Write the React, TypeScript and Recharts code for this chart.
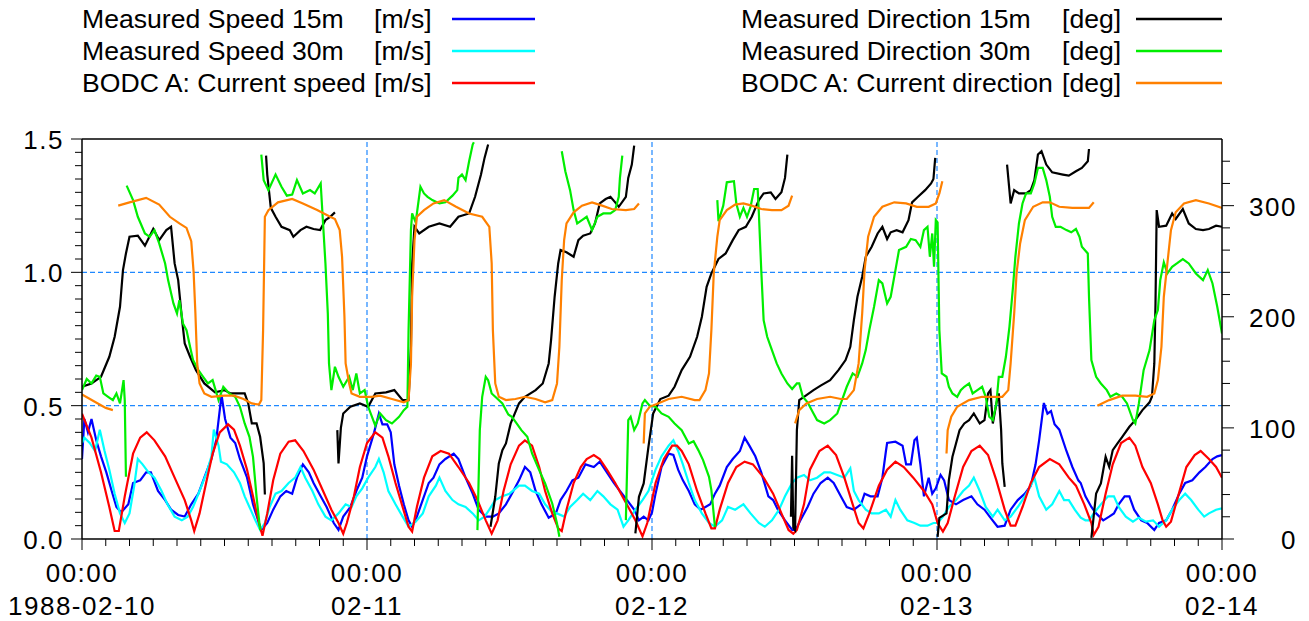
import React from 'react';
import { LineChart, Line, XAxis, YAxis, ReferenceLine } from 'recharts';

type Pt = [number, number | null];

// Measured Speed 15m [m/s]  (hours from 1988-02-10 00:00)
const speed15: Pt[] = [
  [0,0.30],[0.2,0.45],[0.5,0.40],[0.8,0.45],[1.2,0.37],[1.6,0.31],[2.05,0.25],[2.5,0.18],[2.9,0.12],[3.3,0.10],[3.9,0.13],[4.3,0.21],[4.9,0.22],[5.4,0.25],[5.8,0.25],[6.4,0.18],[7.0,0.146],[7.5,0.11],[8.1,0.09],[8.65,0.084],[9.2,0.13],[9.8,0.17],[10.3,0.23],[10.9,0.30],[11.3,0.37],[11.75,0.54],[12.05,0.45],[12.5,0.38],[12.9,0.36],[13.3,0.30],[13.9,0.23],[14.4,0.13],[14.9,0.06],[15.1,0.034],[15.6,0.06],[16.1,0.11],[16.7,0.16],[17.2,0.18],[17.7,0.17],[18.1,0.23],[18.6,0.28],[19.1,0.25],[19.5,0.21],[20.1,0.16],[20.6,0.12],[21.2,0.06],[21.6,0.034],[22.0,0.084],[22.6,0.12],[23.1,0.18],[23.6,0.23],[24.0,0.31],[24.6,0.40],[25.0,0.47],[25.3,0.43],[25.7,0.43],[26.0,0.40],[26.3,0.28],[26.7,0.20],[27.1,0.13],[27.5,0.07],[27.8,0.046],[28.2,0.084],[28.8,0.16],[29.2,0.21],[29.6,0.23],[30.1,0.28],[30.6,0.30],[31.3,0.32],[31.7,0.30],[32.3,0.23],[32.9,0.17],[33.4,0.11],[34.0,0.084],[34.6,0.084],[35.1,0.096],[35.7,0.13],[36.2,0.17],[36.8,0.22],[37.3,0.27],[37.75,0.25],[38.2,0.18],[38.7,0.13],[39.3,0.08],[39.9,0.096],[40.3,0.146],[40.8,0.18],[41.3,0.22],[41.8,0.23],[42.4,0.28],[43.1,0.27],[43.6,0.29],[44.2,0.25],[44.8,0.21],[45.3,0.18],[45.9,0.146],[46.5,0.11],[46.9,0.07],[47.3,0.084],[47.7,0.07],[48.0,0.10],[48.3,0.17],[48.8,0.27],[49.4,0.32],[49.8,0.315],[50.2,0.26],[50.6,0.22],[51.1,0.18],[51.6,0.13],[52.1,0.11],[52.5,0.12],[52.9,0.13],[53.3,0.17],[53.7,0.20],[54.3,0.27],[54.8,0.30],[55.4,0.33],[55.8,0.38],[56.2,0.35],[56.7,0.31],[57.2,0.25],[57.8,0.16],[58.2,0.146],[58.6,0.11],[59.2,0.07],[59.8,0.034],[60.1,0.034],[60.5,0.07],[61.1,0.12],[61.6,0.17],[62.2,0.21],[62.8,0.23],[63.3,0.21],[63.9,0.16],[64.4,0.12],[65.0,0.11],[65.6,0.13],[65.9,0.17],[66.4,0.16],[67.0,0.16],[67.4,0.23],[67.7,0.33],[67.8,0.36],[68.5,0.365],[69.1,0.35],[69.4,0.28],[69.8,0.28],[70.1,0.37],[70.3,0.38],[70.6,0.28],[70.9,0.16],[71.3,0.23],[71.6,0.17],[71.9,0.19],[72.3,0.24],[72.6,0.22],[73.0,0.146],[73.6,0.13],[74.2,0.146],[74.9,0.16],[75.4,0.13],[76.0,0.11],[76.5,0.08],[77.1,0.046],[77.7,0.05],[78.2,0.11],[78.8,0.146],[79.4,0.17],[79.9,0.20],[80.3,0.28],[80.6,0.37],[81.0,0.51],[81.3,0.47],[81.6,0.48],[81.9,0.43],[82.3,0.41],[82.9,0.33],[83.4,0.27],[83.9,0.22],[84.1,0.21],[84.5,0.16],[85.0,0.12],[85.4,0.096],[86.0,0.07],[86.5,0.084],[86.9,0.096],[87.3,0.13],[87.8,0.16],[88.2,0.16],[88.6,0.11],[89.2,0.07],[89.7,0.06],[90.3,0.034],[90.7,0.06],[91.3,0.07],[91.8,0.11],[92.4,0.17],[92.9,0.21],[93.5,0.22],[94.1,0.25],[94.6,0.27],[95.2,0.30],[95.6,0.31],[96.0,0.315],
];

// Measured Speed 30m [m/s]
const speed30: Pt[] = [
  [0,0.36],[0.2,0.38],[0.65,0.36],[1.1,0.33],[1.5,0.41],[1.9,0.33],[2.3,0.26],[2.75,0.17],[3.2,0.096],[3.6,0.06],[4.0,0.096],[4.4,0.20],[4.7,0.30],[5.1,0.28],[5.6,0.25],[6.1,0.23],[6.7,0.18],[7.2,0.13],[7.8,0.084],[8.4,0.07],[8.9,0.084],[9.35,0.12],[9.9,0.18],[10.5,0.25],[10.9,0.31],[11.1,0.41],[11.5,0.35],[11.7,0.29],[12.2,0.28],[12.8,0.25],[13.3,0.21],[13.7,0.16],[14.2,0.11],[14.6,0.07],[15.0,0.034],[15.4,0.06],[15.8,0.12],[16.3,0.17],[16.8,0.18],[17.4,0.21],[17.95,0.23],[18.4,0.27],[18.8,0.23],[19.4,0.18],[19.9,0.13],[20.5,0.084],[21.0,0.07],[21.6,0.096],[22.2,0.13],[22.7,0.12],[23.1,0.16],[23.6,0.19],[24.1,0.23],[24.7,0.27],[25.0,0.30],[25.4,0.25],[25.8,0.18],[26.4,0.13],[27.0,0.084],[27.5,0.046],[28.1,0.065],[28.7,0.096],[29.2,0.16],[29.8,0.20],[30.1,0.23],[30.6,0.18],[31.2,0.146],[31.7,0.13],[32.3,0.12],[32.9,0.096],[33.4,0.07],[33.9,0.084],[34.3,0.11],[34.8,0.146],[35.4,0.16],[36.0,0.17],[36.8,0.20],[37.3,0.20],[37.9,0.18],[38.5,0.17],[39.0,0.13],[39.6,0.10],[40.0,0.096],[40.6,0.084],[41.1,0.12],[41.7,0.146],[42.2,0.17],[42.8,0.146],[43.4,0.18],[43.9,0.16],[44.5,0.13],[45.1,0.11],[45.6,0.046],[46.0,0.07],[46.6,0.11],[47.2,0.146],[47.7,0.18],[48.3,0.26],[48.8,0.31],[49.4,0.35],[49.8,0.37],[50.2,0.33],[50.6,0.28],[51.1,0.21],[51.6,0.146],[52.2,0.096],[52.8,0.06],[53.3,0.046],[53.9,0.07],[54.4,0.12],[55.0,0.11],[55.7,0.13],[56.3,0.096],[57.0,0.06],[57.5,0.046],[58.1,0.07],[58.7,0.11],[59.2,0.16],[59.8,0.21],[60.2,0.23],[60.8,0.24],[61.3,0.22],[61.9,0.23],[62.5,0.25],[63.0,0.25],[63.6,0.24],[64.2,0.23],[64.7,0.265],[65.0,0.18],[65.4,0.146],[66.0,0.11],[66.5,0.096],[67.1,0.096],[67.7,0.11],[68.1,0.084],[68.5,0.146],[68.9,0.11],[69.5,0.07],[70.1,0.06],[70.6,0.05],[71.2,0.05],[71.7,0.06],[72.05,0.06],[72.5,0.084],[73.0,0.12],[73.6,0.146],[74.2,0.18],[74.7,0.20],[75.1,0.23],[75.6,0.18],[76.1,0.12],[76.7,0.084],[77.1,0.11],[77.7,0.07],[78.2,0.084],[78.8,0.12],[79.4,0.16],[79.9,0.20],[80.2,0.23],[80.6,0.16],[81.2,0.11],[81.7,0.13],[82.3,0.18],[82.7,0.146],[83.1,0.146],[83.6,0.11],[84.1,0.08],[84.5,0.07],[84.8,0.07],[85.2,0.096],[85.8,0.13],[86.4,0.16],[86.9,0.16],[87.3,0.12],[87.9,0.084],[88.5,0.065],[89.0,0.08],[89.6,0.065],[90.2,0.07],[90.7,0.046],[91.3,0.07],[91.8,0.11],[92.4,0.146],[92.9,0.17],[93.4,0.146],[94.0,0.11],[94.5,0.084],[94.9,0.096],[95.5,0.11],[96.0,0.115],
];

// BODC A: Current speed [m/s]
const bodcSpeed: Pt[] = [
  [0,0.47],[0.8,0.38],[1.6,0.25],[2.3,0.12],[2.75,0.03],[3.1,0.03],[3.6,0.16],[4.3,0.32],[4.9,0.38],[5.45,0.40],[6.1,0.37],[7.0,0.31],[7.8,0.23],[8.65,0.146],[9.2,0.07],[9.45,0.03],[9.9,0.096],[10.5,0.22],[11.0,0.32],[11.6,0.40],[12.3,0.43],[12.8,0.41],[13.3,0.35],[13.9,0.26],[14.4,0.16],[14.9,0.06],[15.2,0.012],[15.6,0.096],[16.1,0.22],[16.7,0.32],[17.4,0.365],[17.95,0.37],[18.65,0.33],[19.5,0.26],[20.3,0.18],[21.0,0.11],[21.6,0.06],[22.0,0.02],[22.3,0.06],[22.9,0.16],[23.4,0.27],[24.0,0.36],[24.7,0.40],[25.3,0.38],[25.8,0.31],[26.4,0.21],[27.0,0.12],[27.5,0.046],[27.8,0.028],[28.2,0.12],[28.8,0.23],[29.5,0.31],[30.2,0.33],[30.9,0.32],[31.7,0.27],[32.6,0.21],[33.3,0.146],[34.0,0.07],[34.5,0.02],[35.0,0.07],[35.5,0.18],[36.1,0.28],[36.8,0.35],[37.3,0.37],[37.9,0.35],[38.5,0.27],[39.0,0.18],[39.6,0.096],[40.1,0.04],[40.4,0.03],[40.8,0.11],[41.4,0.21],[42.0,0.27],[42.5,0.30],[43.1,0.315],[43.6,0.30],[44.2,0.26],[44.9,0.21],[45.5,0.16],[46.0,0.12],[46.6,0.07],[47.2,0.01],[47.6,0.06],[48.3,0.21],[49.0,0.30],[49.7,0.35],[50.1,0.35],[50.5,0.33],[51.1,0.28],[51.8,0.18],[52.5,0.096],[53.0,0.04],[53.3,0.04],[53.7,0.11],[54.4,0.21],[55.1,0.27],[55.8,0.29],[56.5,0.28],[57.4,0.23],[58.2,0.17],[58.9,0.096],[59.5,0.034],[59.9,0.02],[60.2,0.034],[60.8,0.13],[61.3,0.26],[62.1,0.33],[62.8,0.35],[63.5,0.315],[64.2,0.23],[64.9,0.13],[65.4,0.06],[65.8,0.04],[66.3,0.096],[67.1,0.20],[67.8,0.26],[68.5,0.29],[69.2,0.27],[70.0,0.23],[70.9,0.18],[71.6,0.13],[72.05,0.06],[72.5,0.028],[72.9,0.06],[73.5,0.16],[74.2,0.27],[74.9,0.33],[75.6,0.35],[76.3,0.315],[77.0,0.22],[77.7,0.11],[78.2,0.05],[78.6,0.05],[79.2,0.12],[79.9,0.21],[80.6,0.27],[81.5,0.30],[82.3,0.28],[83.1,0.23],[83.7,0.20],[84.4,0.13],[85.0,0.06],[85.2,0.015],[85.6,0.046],[86.2,0.17],[86.8,0.28],[87.5,0.36],[88.2,0.38],[88.7,0.35],[89.3,0.27],[90.0,0.21],[90.6,0.13],[91.0,0.07],[91.3,0.046],[91.7,0.065],[92.3,0.16],[93.0,0.27],[93.7,0.315],[94.2,0.33],[94.9,0.30],[95.5,0.27],[96.0,0.23],
];

// Measured Direction 15m [deg]  (null = gap)
const dir15: Pt[] = [
  [0,137],[0.8,140],[1.6,146],[2.3,164],[2.75,182],[3.2,209],[3.45,242],[3.7,257],[4.0,272],[4.7,273],[5.3,264],[6.0,279],[6.5,269],[7.1,278],[7.5,281],[7.8,248],[8.1,233],[8.4,200],[8.65,176],[9.1,164],[9.6,152],[10.3,140],[11.2,132],[12.0,134],[12.5,131],[13.7,131],[14.0,122],[14.3,104],[14.7,104],[15.0,92],[15.3,68],[15.4,40],[15.45,null],
  [15.5,345],[15.6,328],[15.9,298],[16.3,290],[16.8,281],[17.5,278],[17.8,272],[18.4,278],[18.9,281],[19.5,279],[20.05,278],[20.5,287],[20.9,290],[21.3,294],[21.4,null],
  [21.5,98],[21.6,68],[21.8,100],[22.0,113],[22.6,119],[23.4,122],[24.1,119],[24.7,131],[25.6,132],[26.3,134],[27.0,125],[27.5,125],[27.7,173],[27.8,248],[28.0,281],[28.4,275],[29.2,281],[30.1,284],[31.0,281],[31.7,290],[32.6,293],[33.1,308],[33.6,328],[33.9,343],[34.2,355],[34.3,null],
  [34.4,11],[34.8,38],[35.1,68],[35.4,80],[35.7,86],[36.1,104],[36.8,122],[37.3,128],[38.2,134],[38.8,140],[39.3,158],[39.5,179],[39.8,218],[40.1,248],[40.3,260],[40.8,258],[41.4,254],[41.8,269],[42.2,273],[42.8,275],[43.2,284],[43.6,302],[44.1,306],[44.5,308],[44.9,303],[45.2,299],[45.8,308],[46.0,325],[46.3,337],[46.5,354],[46.55,null],
  [46.6,5],[46.9,38],[47.3,50],[47.7,83],[48.1,113],[48.7,126],[49.4,129],[49.9,137],[50.5,152],[51.2,164],[51.8,182],[52.2,200],[52.6,227],[53.0,239],[53.6,252],[54.2,257],[54.8,269],[55.3,278],[55.9,281],[56.4,290],[57.0,305],[57.4,311],[58.0,312],[58.4,306],[58.9,312],[59.2,325],[59.4,346],[59.5,null],
  [59.7,20],[59.8,75],[59.9,10],[60.05,8],[60.2,98],[60.4,125],[60.8,128],[61.6,134],[62.2,138],[63.0,143],[63.7,152],[64.3,161],[64.7,173],[65.0,197],[65.3,218],[65.7,236],[66.0,254],[66.5,263],[67.0,275],[67.4,281],[67.8,270],[68.1,276],[68.6,278],[69.1,276],[69.6,287],[69.9,303],[70.4,308],[71.0,314],[71.5,320],[71.7,324],[71.85,343],[71.95,null],
  [72.05,2],[72.2,19],[72.8,23],[73.0,53],[73.3,74],[73.6,86],[73.9,98],[74.3,104],[74.7,107],[75.1,113],[75.6,104],[76.0,107],[76.3,131],[76.5,134],[76.7,104],[77.0,122],[77.2,131],[77.4,98],[77.5,68],[77.7,47],[77.8,null],
  [77.9,337],[78.2,302],[78.5,314],[78.9,311],[79.5,311],[79.9,314],[80.2,323],[80.5,346],[80.8,349],[81.2,337],[81.7,330],[82.6,328],[83.1,327],[83.7,331],[84.2,334],[84.7,340],[84.8,351],[84.9,null],
  [85.0,1],[85.4,41],[85.8,50],[86.2,74],[86.5,65],[86.8,80],[87.2,86],[87.6,92],[88.2,101],[88.7,107],[89.3,116],[89.9,123],[90.1,128],[90.3,158],[90.4,212],[90.5,296],[90.7,281],[91.3,282],[91.8,293],[92.1,288],[92.7,297],[93.2,284],[93.8,279],[94.4,278],[94.9,279],[95.5,282],[96.0,281],
];

// Measured Direction 30m [deg]
const dir30: Pt[] = [
  [0,134],[0.4,144],[0.8,140],[1.2,147],[1.5,146],[1.8,131],[2.2,128],[2.6,125],[2.9,131],[3.2,122],[3.5,143],[3.6,125],[3.7,56],[3.73,null],
  [3.76,318],[4.3,305],[4.7,290],[5.3,275],[5.7,272],[6.1,278],[6.5,266],[7.0,248],[7.25,233],[7.7,212],[8.0,203],[8.2,215],[8.5,194],[8.8,188],[9.1,173],[9.35,161],[9.8,152],[10.2,146],[10.6,140],[11.0,143],[11.5,125],[11.9,137],[12.4,131],[12.9,128],[13.3,119],[13.7,104],[14.1,92],[14.4,74],[14.7,38],[15.0,8],[15.05,null],
  [15.1,346],[15.3,323],[15.7,314],[16.3,328],[16.8,317],[17.25,309],[17.7,310],[18.1,323],[18.6,311],[19.2,314],[19.6,311],[20.1,320],[20.3,284],[20.5,248],[20.7,203],[20.8,158],[21.0,134],[21.3,155],[21.6,146],[22.0,137],[22.5,146],[22.8,134],[23.1,149],[23.4,131],[23.8,134],[24.1,119],[24.7,102],[25.1,113],[25.6,107],[26.1,104],[26.7,110],[27.1,116],[27.4,119],[27.5,188],[27.7,278],[27.8,293],[28.1,285],[28.5,317],[28.8,311],[29.1,308],[29.5,305],[30.1,302],[30.6,303],[31.2,309],[31.6,314],[31.7,325],[32.0,328],[32.3,323],[32.6,340],[32.9,355],[33.0,357],[33.1,null],
  [33.3,8],[33.5,98],[33.7,128],[34.0,146],[34.2,143],[34.5,131],[34.8,128],[35.4,122],[35.9,112],[36.2,110],[36.6,104],[37.0,98],[37.5,92],[37.9,77],[38.5,62],[39.0,50],[39.6,32],[40.0,14],[40.2,2],[40.3,null],
  [40.4,349],[40.7,331],[41.1,314],[41.4,296],[41.7,284],[42.1,287],[42.5,290],[42.95,278],[43.4,290],[43.9,293],[44.5,293],[44.9,296],[45.2,308],[45.3,325],[45.5,345],[45.6,null],
  [45.8,17],[46.0,107],[46.2,110],[46.5,98],[46.8,104],[47.2,122],[47.4,125],[47.8,120],[48.3,119],[48.8,113],[49.4,110],[49.9,104],[50.5,98],[51.1,86],[51.5,88],[51.9,80],[52.3,71],[52.8,56],[53.0,44],[53.3,11],[53.4,null],
  [53.5,305],[53.6,286],[54.0,300],[54.3,321],[54.9,322],[55.1,302],[55.4,290],[55.7,298],[56.0,290],[56.3,299],[56.6,315],[56.9,315],[57.0,293],[57.2,242],[57.4,197],[57.7,182],[58.1,170],[58.5,158],[58.9,149],[59.4,140],[59.8,135],[60.2,140],[60.4,140],[60.7,128],[61.1,123],[61.6,113],[61.9,107],[62.5,104],[63.0,107],[63.6,113],[64.0,125],[64.4,137],[64.9,149],[65.3,146],[65.7,158],[66.0,170],[66.3,188],[66.7,209],[67.1,233],[67.4,230],[67.8,212],[68.1,218],[68.5,242],[68.8,260],[69.4,263],[69.8,270],[70.2,269],[70.6,263],[70.9,278],[71.2,281],[71.4,254],[71.6,275],[71.75,245],[71.9,287],[72.05,285],[72.2,188],[72.4,149],[72.8,146],[73.0,137],[73.3,131],[73.7,128],[74.0,134],[74.3,137],[74.7,140],[75.0,131],[75.4,134],[75.8,137],[76.1,128],[76.4,110],[76.7,107],[77.0,122],[77.2,146],[77.5,146],[77.8,164],[78.1,191],[78.4,227],[78.6,254],[78.9,284],[79.2,302],[79.5,311],[79.9,311],[80.2,320],[80.5,334],[80.9,334],[81.2,323],[81.5,308],[81.7,290],[82.0,281],[82.4,281],[82.9,278],[83.3,276],[83.7,279],[84.0,272],[84.2,263],[84.7,257],[84.8,218],[85.0,161],[85.4,146],[85.8,140],[86.3,134],[86.6,128],[87.1,131],[87.6,128],[88.0,122],[88.5,107],[88.7,104],[89.0,122],[89.4,152],[89.9,170],[90.3,197],[90.6,206],[90.8,233],[91.1,249],[91.4,239],[91.8,245],[92.2,248],[92.7,252],[93.2,248],[93.8,239],[94.4,233],[94.8,242],[95.2,230],[95.6,209],[96.0,185],
];

// BODC A: Current direction [deg]
const bodcDir: Pt[] = [
  [0,130],[1.0,124],[2.0,118],[2.6,116],[2.8,null],
  [3.05,300],[4.0,303],[5.4,307],[6.5,301],[7.4,290],[8.2,284],[8.8,280],[9.2,268],[9.4,240],[9.55,203],[9.7,158],[9.9,140],[10.3,131],[10.9,128],[12.0,129],[12.8,129],[13.6,126],[14.3,122],[14.9,121],[15.1,125],[15.25,188],[15.4,290],[15.7,296],[16.5,303],[17.7,306],[18.6,302],[19.8,296],[20.9,290],[21.3,288],[21.7,278],[21.9,254],[22.1,200],[22.2,158],[22.5,140],[22.7,131],[23.4,128],[24.4,128],[25.1,129],[26.1,126],[27.1,123],[27.5,125],[27.7,158],[27.8,218],[28.0,269],[28.2,290],[28.8,296],[29.6,302],[30.5,305],[31.5,299],[32.6,293],[33.7,290],[34.3,281],[34.5,248],[34.6,188],[34.8,140],[35.1,128],[35.7,125],[36.5,126],[37.3,128],[38.2,126],[39.0,123],[39.6,125],[40.0,140],[40.2,173],[40.4,233],[40.6,269],[40.8,284],[41.4,294],[42.1,300],[42.95,303],[43.8,300],[44.6,297],[45.8,296],[46.5,297],[46.9,302],[47.1,null],
  [47.3,86],[47.4,113],[47.8,119],[48.5,122],[49.4,126],[50.5,128],[51.6,125],[52.0,125],[52.5,134],[52.8,149],[53.0,188],[53.2,239],[53.5,272],[53.7,287],[54.3,296],[55.0,301],[55.7,302],[56.4,300],[57.2,297],[58.1,296],[58.9,296],[59.5,300],[59.8,309],[59.9,null],
  [60.05,104],[60.4,116],[61.0,122],[61.9,126],[63.0,128],[63.9,126],[64.4,126],[65.0,134],[65.4,158],[65.7,203],[65.9,242],[66.2,272],[66.7,290],[67.4,299],[68.4,303],[69.4,302],[70.3,299],[71.3,299],[71.9,302],[72.2,311],[72.45,322],[72.6,null],
  [72.8,77],[72.9,98],[73.2,110],[73.7,119],[74.7,125],[75.8,128],[77.0,128],[77.5,128],[78.0,134],[78.2,158],[78.5,203],[78.7,239],[79.0,266],[79.4,287],[80.1,299],[80.9,303],[81.5,303],[82.3,299],[83.4,298],[84.3,298],[84.8,298],[85.2,303],[85.3,null],
  [85.5,120],[86.5,125],[87.6,129],[88.7,129],[89.7,128],[90.3,131],[90.6,143],[90.9,173],[91.1,218],[91.4,248],[91.7,278],[92.1,294],[92.8,302],[93.8,305],[94.9,302],[96.0,298],
];

const dayLabels = ['1988-02-10', '02-11', '02-12', '02-13', '02-14'];
const timeLabel = '00:00';
const hourTicks = Array.from({ length: 49 }, (_, i) => i * 2);
const speedTicks = Array.from({ length: 31 }, (_, i) => Math.round(i * 5) / 100);
const dirTicks = Array.from({ length: 18 }, (_, i) => i * 20);
const speedMajor = [0, 0.5, 1.0, 1.5];
const dirMajor = [0, 100, 200, 300];

const series = [
  { key: 'spd15', name: 'Measured Speed 15m', unit: '[m/s]', color: '#0000ff', data: speed15, axis: 'spd', col: 0, row: 0 },
  { key: 'spd30', name: 'Measured Speed 30m', unit: '[m/s]', color: '#00ffff', data: speed30, axis: 'spd', col: 0, row: 1 },
  { key: 'bspd', name: 'BODC A: Current speed', unit: '[m/s]', color: '#ff0000', data: bodcSpeed, axis: 'spd', col: 0, row: 2 },
  { key: 'dir15', name: 'Measured Direction 15m', unit: '[deg]', color: '#000000', data: dir15, axis: 'dir', col: 1, row: 0 },
  { key: 'dir30', name: 'Measured Direction 30m', unit: '[deg]', color: '#00ee00', data: dir30, axis: 'dir', col: 1, row: 1 },
  { key: 'bdir', name: 'BODC A: Current direction', unit: '[deg]', color: '#ff8000', data: bodcDir, axis: 'dir', col: 1, row: 2 },
];

const FONT = '"Liberation Sans", Arial, sans-serif';
const GRID = '#1e88ff';

const XTick = (props: any) => {
  const { x, y, payload } = props;
  const h = payload.value;
  const major = h % 24 === 0;
  return (
    <g>
      <line x1={x} y1={y} x2={x} y2={y + (major ? 11 : 7)} stroke="#000" strokeWidth={1} />
      {major && (
        <>
          <text x={x} y={y + 43} textAnchor="middle" fontSize={26} fontFamily={FONT} letterSpacing={1.5} fill="#000">{timeLabel}</text>
          <text x={x} y={y + 76} textAnchor="middle" fontSize={26} fontFamily={FONT} letterSpacing={1.5} fill="#000">{dayLabels[h / 24]}</text>
        </>
      )}
    </g>
  );
};

const LeftTick = (props: any) => {
  const { x, y, payload } = props;
  const v = payload.value;
  const major = speedMajor.some((m) => Math.abs(m - v) < 1e-6);
  return (
    <g>
      <line x1={x - (major ? 11 : 7)} y1={y} x2={x} y2={y} stroke="#000" strokeWidth={1} />
      {major && (
        <text x={x - 18} y={y + 10} textAnchor="end" fontSize={26} fontFamily={FONT} letterSpacing={1.5} fill="#000">{v.toFixed(1)}</text>
      )}
    </g>
  );
};

const RightTick = (props: any) => {
  const { x, y, payload } = props;
  const v = payload.value;
  const major = dirMajor.includes(v);
  return (
    <g>
      <line x1={x} y1={y} x2={x + (major ? 12 : 8)} y2={y} stroke="#000" strokeWidth={1} />
      {major && (
        <text x={x + 75} y={y + 10} textAnchor="end" fontSize={26} fontFamily={FONT} letterSpacing={1.5} fill="#000">{String(v)}</text>
      )}
    </g>
  );
};

const rowY = [19, 51, 83];
const colText = [82, 741];
const colUnit = [374, 1062];
const colLine = [[452, 535], [1136, 1222]];

const LegendBlock = () => (
  <svg width={1309} height={110} style={{ position: 'absolute', left: 0, top: 0 }}>
    {series.map((s) => (
      <g key={s.key}>
        <text x={colText[s.col]} y={rowY[s.row] + 9} fontSize={26.6} fontFamily={FONT} fill="#000">{s.name}</text>
        <text x={colUnit[s.col]} y={rowY[s.row] + 9} fontSize={26.6} fontFamily={FONT} fill="#000">{s.unit}</text>
        <line x1={colLine[s.col][0]} x2={colLine[s.col][1]} y1={rowY[s.row]} y2={rowY[s.row]} stroke={s.color} strokeWidth={2.5} />
      </g>
    ))}
  </svg>
);

export default function App() {
  return (
    <div style={{ position: 'absolute', left: 0, top: 0, width: 1309, height: 621, background: '#fff', overflow: 'hidden' }}>
      <LegendBlock />
      <div style={{ position: 'absolute', left: 0, top: 0 }}>
        <LineChart width={1309} height={621} margin={{ top: 139, right: 27, bottom: 12, left: 22 }}>
          <XAxis
            dataKey="t"
            type="number"
            domain={[0, 96]}
            ticks={hourTicks}
            interval={0}
            tick={(p: any) => <XTick {...p} />}
            tickLine={false}
            tickSize={0}
            tickMargin={0}
            height={70}
            axisLine={{ stroke: '#000', strokeWidth: 1.5 }}
            allowDataOverflow
          />
          <YAxis
            yAxisId="spd"
            orientation="left"
            type="number"
            domain={[0, 1.5]}
            ticks={speedTicks}
            interval={0}
            width={60}
            tick={(p: any) => <LeftTick {...p} />}
            tickLine={false}
            tickSize={0}
            tickMargin={0}
            axisLine={{ stroke: '#000', strokeWidth: 1.5 }}
            allowDataOverflow
          />
          <YAxis
            yAxisId="dir"
            orientation="right"
            type="number"
            domain={[0, 360]}
            ticks={dirTicks}
            interval={0}
            width={60}
            tick={(p: any) => <RightTick {...p} />}
            tickLine={false}
            tickSize={0}
            tickMargin={0}
            axisLine={{ stroke: '#000', strokeWidth: 1.5 }}
            allowDataOverflow
          />
          <ReferenceLine yAxisId="spd" y={1.5} stroke="#000" strokeWidth={1.5} />
          {[24, 48, 72].map((h) => (
            <ReferenceLine key={'v' + h} yAxisId="spd" x={h} stroke={GRID} strokeDasharray="5 3" strokeWidth={1.2} />
          ))}
          {[0.5, 1.0].map((v) => (
            <ReferenceLine key={'h' + v} yAxisId="spd" y={v} stroke={GRID} strokeDasharray="5 3" strokeWidth={1.2} />
          ))}
          {series.map((s) => (
            <Line
              key={s.key}
              yAxisId={s.axis}
              data={s.data.map(([t, v]) => ({ t, v }))}
              dataKey="v"
              type="linear"
              stroke={s.color}
              strokeWidth={2.2}
              dot={false}
              activeDot={false}
              isAnimationActive={false}
              connectNulls={false}
            />
          ))}
        </LineChart>
      </div>
    </div>
  );
}
